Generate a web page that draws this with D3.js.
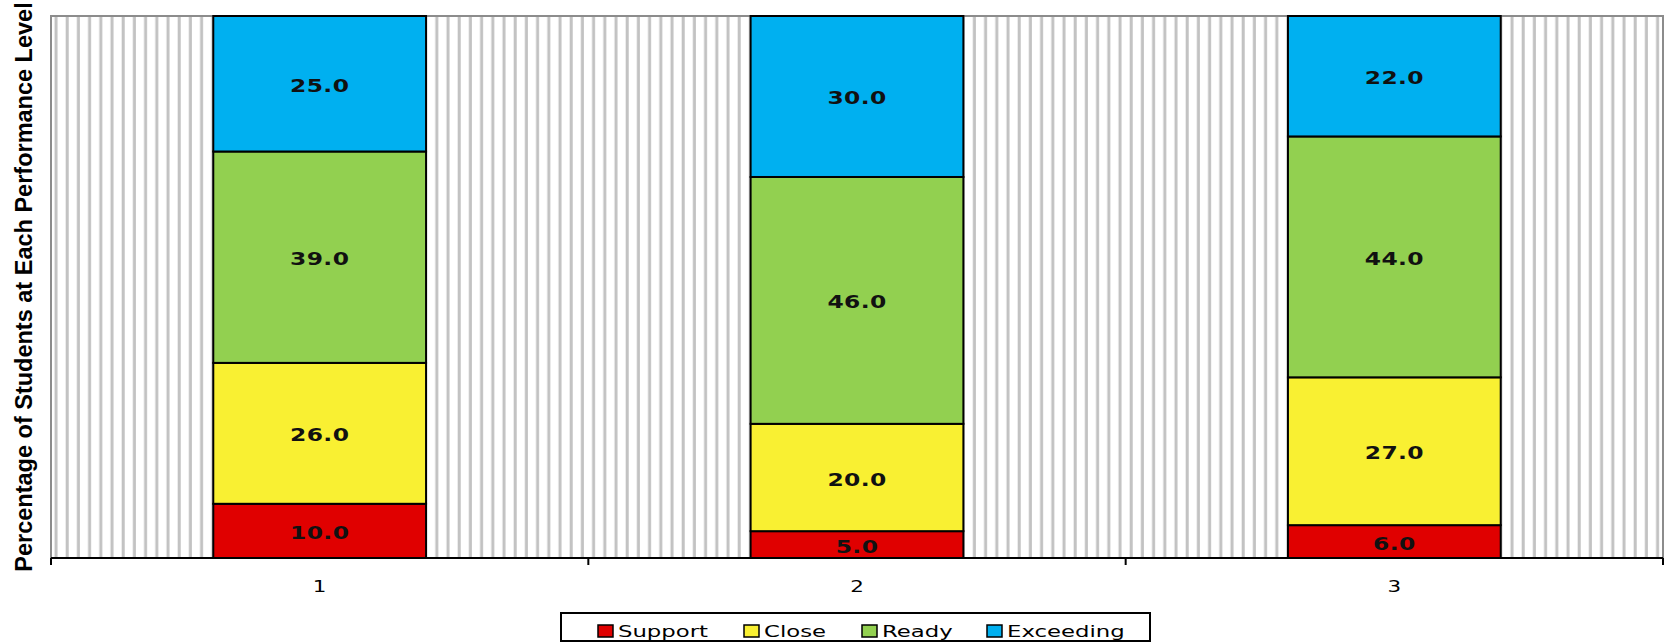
<!DOCTYPE html>
<html>
<head>
<meta charset="utf-8">
<script src="https://cdn.jsdelivr.net/npm/d3@7"></script>
<style>
  body { margin: 0; background: #fff; }
  svg { display: block; }
</style>
</head>
<body>
<svg width="1671" height="642"></svg>
<script>
// data (100% stacked, labels show the raw values)
var categories = ["1", "2", "3"];
var levels = ["Support", "Close", "Ready", "Exceeding"];
var supportVals = [10, 5, 6];
var closeVals = [26, 20, 27];
var readyVals = [39, 46, 44];
var exceedingVals = [25, 30, 22];
var levelColors = ["#e00000", "#f9f032", "#92d050", "#00b0f0"];
var yLabel = "Percentage of Students at Each Performance Level";

var rows = categories.map(function(c, i) {
    return { cat: c, Support: supportVals[i], Close: closeVals[i], Ready: readyVals[i], Exceeding: exceedingVals[i] };
});

var svg = d3.select("svg");
var pLeft = 51, pRight = 1663, pTop = 16, pBottom = 558;

var x = d3.scaleBand().domain(categories).range([pLeft, pRight]).paddingInner(0.604).paddingOuter(0.302);
var xb = d3.scaleBand().domain(categories).range([pLeft, pRight]);
var y = d3.scaleLinear().domain([0, 1]).range([pBottom, pTop]);
var color = d3.scaleOrdinal().domain(levels).range(levelColors);

// vertical line pattern for the plot area
var defs = svg.append("defs");
var pat = defs.append("pattern")
    .attr("id", "vlines")
    .attr("patternUnits", "userSpaceOnUse")
    .attr("x", pLeft + 1)
    .attr("width", 11.2)
    .attr("height", 10);
pat.append("rect").attr("width", 11.2).attr("height", 10).attr("fill", "#fff");
pat.append("rect").attr("x", 2.5).attr("width", 3).attr("height", 10).attr("fill", "#c2c2c2");

svg.append("rect")
    .attr("x", pLeft).attr("y", pTop)
    .attr("width", pRight - pLeft).attr("height", pBottom - pTop)
    .attr("fill", "url(#vlines)")
    .attr("stroke", "#8c8c8c")
    .attr("stroke-width", 2);

// stacked bars
var stack = d3.stack().keys(levels).offset(d3.stackOffsetExpand)(rows);

var layers = svg.append("g").selectAll("g")
    .data(stack)
    .enter().append("g")
    .attr("fill", d => color(d.key));

layers.selectAll("rect")
    .data(d => d)
    .enter().append("rect")
    .attr("x", d => x(d.data.cat))
    .attr("y", d => y(d[1]))
    .attr("width", x.bandwidth())
    .attr("height", d => y(d[0]) - y(d[1]))
    .attr("stroke", "#000")
    .attr("stroke-width", 2);

// value labels
layers.selectAll("text")
    .data(d => d.map(s => ({ s: s, key: d.key })))
    .enter().append("text")
    .attr("transform", d => "translate(" + (x(d.s.data.cat) + x.bandwidth() / 2) + "," + ((y(d.s[0]) + y(d.s[1])) / 2 + 8) + ") scale(1.3,1)")
    .attr("text-anchor", "middle")
    .attr("font-family", "'DejaVu Sans', Verdana, sans-serif")
    .attr("font-weight", "bold")
    .attr("font-size", 18)
    .attr("letter-spacing", 0.3)
    .attr("fill", "#111")
    .text(d => d.s.data[d.key].toFixed(1));

// x axis
var xAxis = svg.append("g")
    .attr("transform", "translate(0," + pBottom + ")");
xAxis.append("line")
    .attr("x1", pLeft).attr("x2", pRight)
    .attr("stroke", "#000").attr("stroke-width", 2);
xAxis.selectAll("line.tick")
    .data(d3.range(categories.length + 1))
    .enter().append("line")
    .attr("class", "tick")
    .attr("x1", i => pLeft + i * xb.step())
    .attr("x2", i => pLeft + i * xb.step())
    .attr("y1", 0).attr("y2", 7)
    .attr("stroke", "#000").attr("stroke-width", 2);
xAxis.selectAll("text")
    .data(categories)
    .enter().append("text")
    .attr("transform", d => "translate(" + (x(d) + x.bandwidth() / 2) + ",34) scale(1.3,1)")
    .attr("text-anchor", "middle")
    .attr("font-family", "'DejaVu Sans', Verdana, sans-serif")
    .attr("font-size", 16.5)
    .attr("fill", "#000")
    .text(d => d);

// y label
svg.append("text")
    .attr("transform", "translate(32," + ((pTop + pBottom) / 2) + ") rotate(-90)")
    .attr("text-anchor", "middle")
    .attr("font-family", "'Liberation Sans', Arial, sans-serif")
    .attr("font-weight", "bold")
    .attr("font-size", 23.5)
    .attr("fill", "#000")
    .text(yLabel);

// legend
var legX = [598, 744, 862, 987];
var legend = svg.append("g");
legend.append("rect")
    .attr("x", 561).attr("y", 613)
    .attr("width", 589).attr("height", 28)
    .attr("fill", "#fff")
    .attr("stroke", "#000").attr("stroke-width", 2);
var items = legend.selectAll("g.item")
    .data(levels)
    .enter().append("g")
    .attr("class", "item")
    .attr("transform", (d, i) => "translate(" + legX[i] + ",625)");
items.append("rect")
    .attr("width", 15).attr("height", 12)
    .attr("fill", d => color(d))
    .attr("stroke", "#000").attr("stroke-width", 1.5);
items.append("text")
    .attr("transform", "translate(20,12) scale(1.38,1)")
    .attr("font-family", "'DejaVu Sans', Verdana, sans-serif")
    .attr("font-size", 16.5)
    .attr("fill", "#000")
    .text(d => d);
</script>
</body>
</html>
